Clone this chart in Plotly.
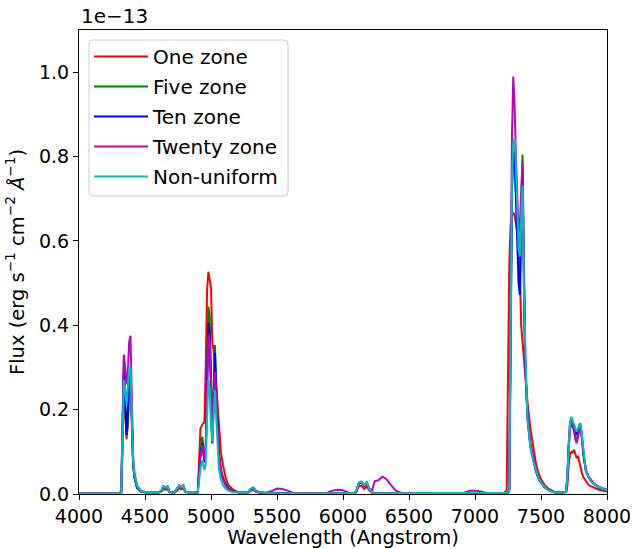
import plotly.graph_objects as go

# Wavelength sampling (Angstrom), shared by all models
wavelength = [
    4000, 4150, 4300,
    4320, 4330, 4340, 4350, 4360, 4370, 4380, 4390, 4400, 4410, 4420, 4440, 4470, 4520,
    4600, 4625, 4640, 4655, 4670, 4685, 4720, 4745, 4760, 4775, 4790, 4805, 4830, 4870,
    4900, 4910, 4920, 4935, 4950, 4960, 4970, 4980, 4990, 5000, 5010, 5020, 5030, 5040,
    5050, 5060, 5075, 5090, 5110, 5130, 5160, 5200,
    5250, 5280, 5300, 5320, 5340, 5370, 5420, 5460, 5500, 5540, 5580, 5620, 5700, 5800,
    5880, 5920, 5960, 6000, 6040, 6080, 6100, 6120, 6140, 6160, 6180, 6200, 6220, 6240,
    6270, 6300, 6330, 6360, 6400, 6440, 6500, 6600, 6800, 6920, 6960, 7000, 7040, 7080, 7150,
    7220, 7240, 7250, 7260, 7270, 7280, 7290, 7300, 7310, 7320, 7330, 7340, 7350, 7360,
    7370, 7380, 7390, 7400, 7420, 7440, 7460, 7480, 7500, 7530, 7560, 7600,
    7650, 7690, 7700, 7710, 7720, 7730, 7740, 7750, 7760, 7770, 7780, 7790, 7800, 7810,
    7820, 7830, 7840, 7860, 7880, 7900, 7940, 8000,
]

# Flux in units of 1e-13 erg s^-1 cm^-2 A^-1
flux_one_zone = [
    0.002, 0.002, 0.002,
    0.004, 0.10, 0.27, 0.20, 0.13, 0.16, 0.26, 0.27, 0.16, 0.07, 0.04, 0.015, 0.006, 0.003,
    0.003, 0.006, 0.012, 0.010, 0.012, 0.004, 0.003, 0.008, 0.014, 0.011, 0.014, 0.005, 0.003, 0.003,
    0.005, 0.10, 0.155, 0.165, 0.17, 0.30, 0.48, 0.527, 0.51, 0.49, 0.36, 0.34, 0.30, 0.26,
    0.22, 0.16, 0.10, 0.07, 0.04, 0.022, 0.012, 0.005,
    0.003, 0.003, 0.008, 0.010, 0.006, 0.003, 0.002, 0.002, 0.002, 0.002, 0.002, 0.002, 0.002, 0.002,
    0.002, 0.002, 0.002, 0.002, 0.002, 0.002, 0.004, 0.018, 0.020, 0.012, 0.018, 0.008, 0.003, 0.002,
    0.002, 0.002, 0.002, 0.002, 0.002, 0.002, 0.002, 0.002, 0.002, 0.002, 0.002, 0.002, 0.002, 0.002, 0.002,
    0.002, 0.010, 0.25, 0.55, 0.64, 0.66, 0.667, 0.66, 0.64, 0.62, 0.60, 0.52, 0.40, 0.36,
    0.32, 0.28, 0.24, 0.21, 0.155, 0.11, 0.075, 0.05, 0.035, 0.02, 0.012, 0.005,
    0.003, 0.004, 0.02, 0.07, 0.095, 0.10, 0.098, 0.105, 0.095, 0.085, 0.09, 0.075, 0.06, 0.05,
    0.04, 0.035, 0.03, 0.022, 0.018, 0.015, 0.01, 0.006,
]

flux_five_zone = [
    0.002, 0.002, 0.002,
    0.004, 0.12, 0.30, 0.20, 0.14, 0.17, 0.28, 0.29, 0.16, 0.07, 0.04, 0.015, 0.006, 0.003,
    0.003, 0.008, 0.018, 0.015, 0.018, 0.005, 0.003, 0.012, 0.020, 0.016, 0.020, 0.006, 0.003, 0.003,
    0.004, 0.05, 0.10, 0.136, 0.08, 0.10, 0.30, 0.444, 0.42, 0.25, 0.14, 0.25, 0.353, 0.25,
    0.15, 0.10, 0.06, 0.04, 0.025, 0.015, 0.008, 0.004,
    0.003, 0.004, 0.012, 0.015, 0.008, 0.004, 0.002, 0.002, 0.002, 0.002, 0.002, 0.002, 0.002, 0.002,
    0.002, 0.002, 0.002, 0.002, 0.002, 0.002, 0.006, 0.026, 0.028, 0.020, 0.026, 0.012, 0.004, 0.002,
    0.002, 0.002, 0.002, 0.002, 0.002, 0.002, 0.002, 0.002, 0.002, 0.002, 0.002, 0.002, 0.002, 0.002, 0.002,
    0.002, 0.002, 0.003, 0.01, 0.40, 0.72, 0.82, 0.81, 0.72, 0.64, 0.58, 0.57, 0.70, 0.804,
    0.55, 0.32, 0.24, 0.175, 0.115, 0.082, 0.058, 0.038, 0.027, 0.016, 0.009, 0.004,
    0.003, 0.005, 0.04, 0.11, 0.155, 0.165, 0.16, 0.15, 0.135, 0.125, 0.14, 0.155, 0.16, 0.135,
    0.095, 0.068, 0.055, 0.04, 0.03, 0.024, 0.016, 0.009,
]

flux_ten_zone = [
    0.002, 0.002, 0.002,
    0.004, 0.14, 0.32, 0.22, 0.14, 0.19, 0.30, 0.30, 0.15, 0.07, 0.04, 0.015, 0.006, 0.003,
    0.003, 0.008, 0.018, 0.015, 0.018, 0.005, 0.003, 0.012, 0.020, 0.016, 0.020, 0.006, 0.003, 0.003,
    0.004, 0.05, 0.09, 0.12, 0.075, 0.10, 0.28, 0.405, 0.38, 0.22, 0.12, 0.22, 0.334, 0.24,
    0.14, 0.09, 0.055, 0.035, 0.022, 0.013, 0.007, 0.004,
    0.003, 0.004, 0.012, 0.015, 0.008, 0.004, 0.002, 0.002, 0.002, 0.002, 0.002, 0.002, 0.002, 0.002,
    0.002, 0.002, 0.002, 0.002, 0.002, 0.002, 0.006, 0.026, 0.028, 0.020, 0.026, 0.012, 0.004, 0.002,
    0.002, 0.002, 0.002, 0.002, 0.002, 0.002, 0.002, 0.002, 0.002, 0.002, 0.002, 0.002, 0.002, 0.002, 0.002,
    0.002, 0.002, 0.003, 0.01, 0.40, 0.72, 0.82, 0.80, 0.70, 0.60, 0.50, 0.472, 0.62, 0.76,
    0.52, 0.31, 0.235, 0.172, 0.112, 0.08, 0.056, 0.037, 0.026, 0.015, 0.009, 0.004,
    0.003, 0.005, 0.04, 0.12, 0.17, 0.18, 0.172, 0.16, 0.148, 0.14, 0.15, 0.16, 0.162, 0.138,
    0.098, 0.07, 0.056, 0.04, 0.03, 0.024, 0.016, 0.009,
]

flux_twenty_zone = [
    0.002, 0.002, 0.002,
    0.004, 0.15, 0.33, 0.30, 0.26, 0.29, 0.36, 0.375, 0.22, 0.09, 0.05, 0.02, 0.008, 0.003,
    0.003, 0.008, 0.018, 0.015, 0.018, 0.005, 0.003, 0.012, 0.020, 0.016, 0.020, 0.006, 0.003, 0.003,
    0.004, 0.05, 0.09, 0.116, 0.08, 0.10, 0.26, 0.38, 0.36, 0.24, 0.152, 0.22, 0.29, 0.23,
    0.14, 0.09, 0.055, 0.035, 0.022, 0.013, 0.007, 0.004,
    0.003, 0.004, 0.008, 0.010, 0.006, 0.003, 0.003, 0.007, 0.013, 0.012, 0.008, 0.003, 0.002, 0.002,
    0.003, 0.008, 0.010, 0.009, 0.003, 0.002, 0.006, 0.026, 0.028, 0.020, 0.026, 0.012, 0.008, 0.030,
    0.033, 0.041, 0.035, 0.022, 0.008, 0.003, 0.002, 0.002, 0.002, 0.003, 0.008, 0.008, 0.006, 0.003, 0.002,
    0.002, 0.002, 0.003, 0.01, 0.45, 0.85, 0.99, 0.92, 0.80, 0.70, 0.62, 0.64, 0.72, 0.785,
    0.55, 0.33, 0.245, 0.18, 0.12, 0.085, 0.06, 0.04, 0.028, 0.016, 0.009, 0.004,
    0.003, 0.005, 0.04, 0.11, 0.16, 0.175, 0.165, 0.15, 0.13, 0.12, 0.135, 0.15, 0.155, 0.13,
    0.095, 0.068, 0.056, 0.042, 0.032, 0.025, 0.017, 0.01,
]

flux_non_uniform = [
    0.002, 0.002, 0.002,
    0.004, 0.13, 0.27, 0.25, 0.21, 0.25, 0.30, 0.30, 0.17, 0.08, 0.045, 0.018, 0.007, 0.003,
    0.003, 0.008, 0.018, 0.015, 0.018, 0.005, 0.003, 0.012, 0.020, 0.016, 0.020, 0.006, 0.003, 0.003,
    0.004, 0.03, 0.06, 0.08, 0.057, 0.07, 0.18, 0.27, 0.25, 0.16, 0.124, 0.20, 0.247, 0.18,
    0.10, 0.06, 0.035, 0.022, 0.013, 0.008, 0.005, 0.004,
    0.003, 0.004, 0.012, 0.015, 0.008, 0.004, 0.002, 0.002, 0.002, 0.002, 0.002, 0.002, 0.002, 0.002,
    0.002, 0.002, 0.002, 0.002, 0.002, 0.002, 0.007, 0.028, 0.030, 0.021, 0.028, 0.012, 0.004, 0.002,
    0.002, 0.002, 0.002, 0.002, 0.002, 0.002, 0.002, 0.002, 0.002, 0.002, 0.002, 0.002, 0.002, 0.002, 0.002,
    0.002, 0.002, 0.003, 0.01, 0.40, 0.75, 0.83, 0.844, 0.78, 0.68, 0.58, 0.563, 0.65, 0.73,
    0.50, 0.32, 0.24, 0.17, 0.11, 0.08, 0.058, 0.038, 0.027, 0.015, 0.008, 0.004,
    0.003, 0.005, 0.045, 0.12, 0.17, 0.183, 0.175, 0.165, 0.155, 0.148, 0.155, 0.165, 0.168, 0.14,
    0.10, 0.07, 0.055, 0.04, 0.03, 0.024, 0.016, 0.009,
]

series_names = ["One zone", "Five zone", "Ten zone", "Twenty zone", "Non-uniform"]
series_flux = [flux_one_zone, flux_five_zone, flux_ten_zone, flux_twenty_zone, flux_non_uniform]
series_colors = ["#ff0000", "#008000", "#0000ff", "#bf00bf", "#00bfbf"]

x_ticks = [4000, 4500, 5000, 5500, 6000, 6500, 7000, 7500, 8000]
y_ticks = [0.0, 0.2, 0.4, 0.6, 0.8, 1.0]

FONT = "DejaVu Sans"
TICK_FS = 19
TITLE_FS = 19.5
LEGEND_FS = 20

# Plot area in pixels: left/right/top/bottom margins
ML, MR, MT, MB = 79, 26, 30, 55
W, H = 633, 549
PW, PH = W - ML - MR, H - MT - MB


def rounded_box(x0, y0, x1, y1, r):
    """Rounded rectangle path in paper coordinates, corner radius r in pixels."""
    rx, ry = r / PW, r / PH
    return (f"M{x0 + rx},{y1} L{x1 - rx},{y1} Q{x1},{y1} {x1},{y1 - ry} "
            f"L{x1},{y0 + ry} Q{x1},{y0} {x1 - rx},{y0} "
            f"L{x0 + rx},{y0} Q{x0},{y0} {x0},{y0 + ry} "
            f"L{x0},{y1 - ry} Q{x0},{y1} {x0 + rx},{y1} Z")


fig = go.Figure()
for i, (name, flux, color) in enumerate(zip(series_names, series_flux, series_colors)):
    assert len(flux) == len(wavelength)
    fig.add_trace(go.Scatter(
        x=wavelength, y=flux, mode="lines", name=name,
        legendgroup=f"g{i}",
        line=dict(color=color, width=2),
    ))

# legend frame (rounded, light grey edge)
fig.add_shape(
    type="path", xref="paper", yref="paper", layer="above",
    path=rounded_box(10 / PW, 298 / PH, 209 / PW, 454 / PH, 4),
    fillcolor="rgba(255,255,255,0.8)", line=dict(color="#cccccc", width=1),
)

fig.update_layout(
    width=W, height=H,
    margin=dict(l=ML, r=MR, t=MT, b=MB),
    paper_bgcolor="white", plot_bgcolor="white",
    font=dict(family=FONT, size=TICK_FS, color="black"),
    showlegend=True,
    legend=dict(
        x=10 / PW, y=457 / PH, xanchor="left", yanchor="top",
        bgcolor="rgba(0,0,0,0)", borderwidth=0,
        font=dict(family=FONT, size=LEGEND_FS),
        traceorder="grouped", tracegroupgap=1,
        itemwidth=54,
    ),
    xaxis=dict(
        range=[4000, 8000], tickvals=x_ticks,
        showgrid=False, zeroline=False,
        showline=True, linecolor="black", linewidth=1, mirror=True,
        ticks="outside", ticklen=5, tickcolor="black",
        title=dict(text="Wavelength (Angstrom)", standoff=8, font=dict(size=TITLE_FS)),
        automargin=False,
    ),
    yaxis=dict(
        range=[0, 1.1], tickvals=y_ticks, tickformat=".1f",
        showgrid=False, zeroline=False,
        showline=True, linecolor="black", linewidth=1, mirror=True,
        ticks="outside", ticklen=5, tickcolor="black",
        title=dict(text="Flux (erg s<sup>−1</sup> cm<sup>−2</sup> <i>Å</i><sup>−1</sup>)",
                   standoff=9, font=dict(size=TITLE_FS)),
        automargin=False,
    ),
    annotations=[dict(
        text="1e−13", xref="paper", yref="paper", x=0, y=1,
        xanchor="left", yanchor="bottom", showarrow=False, yshift=0,
        font=dict(family=FONT, size=LEGEND_FS),
    )],
)

fig.write_html("out.html")
